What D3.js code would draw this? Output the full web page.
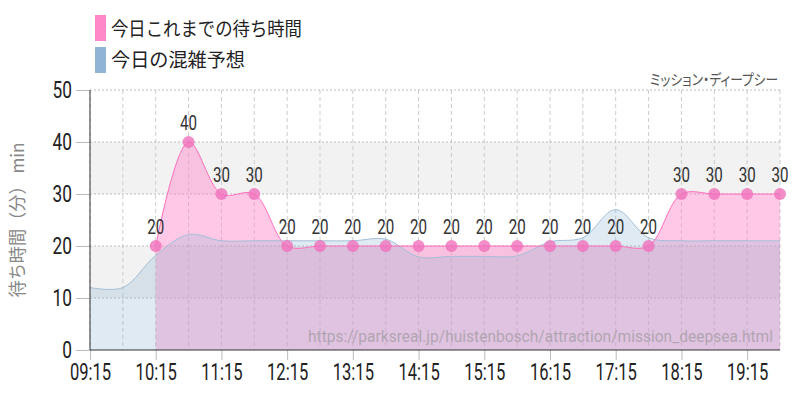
<html>
<head>
<meta charset="utf-8">
<title>ミッション・ディープシー 待ち時間</title>
<script src="https://cdn.jsdelivr.net/npm/d3@7"></script>
<style>
  body { margin: 0; background: #fff; }
  .num { font-family: Roboto, sans-serif; transform: scaleX(0.72); transform-box: fill-box; transform-origin: center; }
  .num.right { transform-origin: right; }
  .jp { font-family: "Noto Sans CJK JP", sans-serif; }
  .palt { font-feature-settings: "palt"; }
</style>
</head>
<body>
<svg width="800" height="400"></svg>
<script>
// forecast (blue) every 30 min from 09:15
var times = ["09:15","09:45","10:15","10:45","11:15","11:45","12:15","12:45","13:15","13:45","14:15",
             "14:45","15:15","15:45","16:15","16:45","17:15","17:45","18:15","18:45","19:15","19:45"];
var forecast = [12, 12, 18.2, 22.2, 21, 21, 21, 21, 21, 21.3, 17.9,
                18, 18, 18.1, 20.8, 21.6, 27, 21.6, 21, 21, 21, 21];
// actual waits so far (pink)
var actualTimes = times.slice(2);
var actual = [20, 40, 30, 30, 20, 20, 20, 20, 20, 20, 20, 20, 20, 20, 20, 20, 30, 30, 30, 30];
var hourTicks = ["09:15","10:15","11:15","12:15","13:15","14:15","15:15","16:15","17:15","18:15","19:15"];
var yTicks = [0, 10, 20, 30, 40, 50];

var svg = d3.select("svg"),
    margin = {top: 90, right: 20, bottom: 50, left: 90},
    width = 800 - margin.left - margin.right,
    height = 400 - margin.top - margin.bottom,
    g = svg.append("g").attr("transform", `translate(${margin.left},${margin.top})`);

var toMin = s => { var p = s.split(":"); return +p[0] * 60 + +p[1]; };

var x = d3.scaleLinear().domain([toMin("09:15"), toMin("19:45")]).range([0, width]);
var y = d3.scaleLinear().domain([0, 50]).range([height, 0]);

// grey bands
[[10, 20], [30, 40]].forEach(b => {
  g.append("rect")
    .attr("x", 0).attr("width", width)
    .attr("y", y(b[1])).attr("height", y(b[0]) - y(b[1]))
    .attr("fill", "#f2f2f2");
});

// vertical dashed grid every 30 min
g.selectAll(".vgrid").data(times).enter().append("line")
  .attr("x1", d => x(toMin(d))).attr("x2", d => x(toMin(d)))
  .attr("y1", 0).attr("y2", height)
  .attr("stroke", "#ccc").attr("stroke-dasharray", "4,3");

// horizontal dotted grid
g.selectAll(".hgrid").data(yTicks.slice(1)).enter().append("line")
  .attr("x1", 0).attr("x2", width)
  .attr("y1", d => y(d)).attr("y2", d => y(d))
  .attr("stroke", "#bbb").attr("stroke-dasharray", "2,2");

var pinkArea = d3.area()
  .x((d, i) => x(toMin(actualTimes[i])))
  .y0(height).y1(d => y(d))
  .curve(d3.curveCatmullRom);
var pinkLine = d3.line()
  .x((d, i) => x(toMin(actualTimes[i])))
  .y(d => y(d))
  .curve(d3.curveCatmullRom);
var blueArea = d3.area()
  .x((d, i) => x(toMin(times[i])))
  .y0(height).y1(d => y(d))
  .curve(d3.curveCatmullRom);
var blueLine = d3.line()
  .x((d, i) => x(toMin(times[i])))
  .y(d => y(d))
  .curve(d3.curveCatmullRom);

g.append("path").datum(actual).attr("d", pinkArea).attr("fill", "rgba(255,136,200,0.46)");
g.append("path").datum(forecast).attr("d", blueArea).attr("fill", "rgba(143,180,212,0.28)");
g.append("path").datum(forecast).attr("d", blueLine).attr("fill", "none").attr("stroke", "#a3bfd8").attr("stroke-width", 1);
g.append("path").datum(actual).attr("d", pinkLine).attr("fill", "none").attr("stroke", "#ff6fbd").attr("stroke-width", 1);

// markers + labels
g.selectAll(".dot").data(actual).enter().append("circle")
  .attr("cx", (d, i) => x(toMin(actualTimes[i])))
  .attr("cy", d => y(d))
  .attr("r", 6)
  .attr("fill", "#f070bb").attr("fill-opacity", 0.8);
g.selectAll(".lbl").data(actual).enter().append("text")
  .attr("class", "num")
  .attr("x", (d, i) => x(toMin(actualTimes[i])))
  .attr("y", d => y(d) - 12)
  .attr("text-anchor", "middle")
  .attr("font-size", 21).attr("fill", "#333")
  .text(d => d);

// axes
var yAxis = g.append("g").call(d3.axisLeft(y).tickValues(yTicks).tickSize(14).tickPadding(4));
yAxis.select(".domain").remove();
yAxis.selectAll(".tick line").attr("stroke", "#bbb");
yAxis.selectAll("text").attr("class", "num right").attr("font-size", 24).attr("fill", "#222");

var xAxis = g.append("g").attr("transform", `translate(0,${height})`)
  .call(d3.axisBottom(x).tickValues(hourTicks.map(toMin)).tickFormat((d, i) => hourTicks[i]).tickSize(10).tickPadding(4));
xAxis.select(".domain").remove();
xAxis.selectAll(".tick line").attr("stroke", "#bbb");
xAxis.selectAll("text").attr("class", "num").attr("font-size", 23).attr("fill", "#222");

g.append("line").attr("x1", 0).attr("x2", 0).attr("y1", 0).attr("y2", height).attr("stroke", "#333");
g.append("line").attr("x1", 0).attr("x2", width).attr("y1", height).attr("y2", height).attr("stroke", "#333");

// watermark
g.append("text")
  .attr("x", width - 7).attr("y", height - 8)
  .attr("text-anchor", "end")
  .attr("font-family", "Roboto, sans-serif").attr("font-size", 16)
  .attr("textLength", 465).attr("lengthAdjust", "spacingAndGlyphs")
  .attr("fill", "#999").attr("fill-opacity", 0.7)
  .text("https://parksreal.jp/huistenbosch/attraction/mission_deepsea.html");

// title at top right
svg.append("text").attr("class", "jp palt")
  .attr("x", 778).attr("y", 85).attr("text-anchor", "end")
  .attr("font-size", 15).attr("fill", "#555")
  .attr("textLength", 128).attr("lengthAdjust", "spacingAndGlyphs")
  .text("ミッション・ディープシー");

// y label
svg.append("text").attr("class", "jp")
  .attr("transform", "translate(24,220) rotate(-90)")
  .attr("text-anchor", "middle")
  .attr("font-size", 18).attr("fill", "#888")
  .attr("textLength", 155).attr("lengthAdjust", "spacingAndGlyphs")
  .text("待ち時間（分） min");

// legend
var legend = [["今日これまでの待ち時間", "#ff88c8", 191], ["今日の混雑予想", "#8fb4d4", 134]];
legend.forEach((l, i) => {
  svg.append("rect").attr("x", 95).attr("y", 15 + i * 32).attr("width", 11).attr("height", 26).attr("fill", l[1]);
  svg.append("text").attr("class", "jp")
    .attr("x", 111).attr("y", 36 + i * 31)
    .attr("font-size", 19).attr("fill", "#222")
    .attr("textLength", l[2]).attr("lengthAdjust", "spacingAndGlyphs")
    .text(l[0]);
});
</script>
</body>
</html>
